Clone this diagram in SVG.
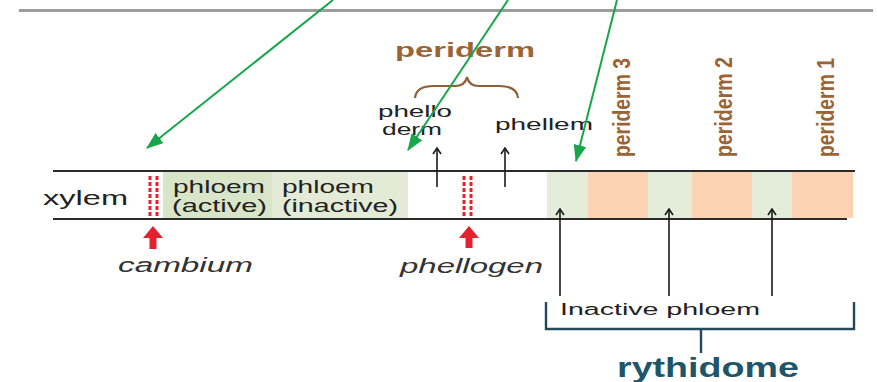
<svg xmlns="http://www.w3.org/2000/svg" width="877" height="382" viewBox="0 0 877 382">
  <style>
    .lbl { font-family: "Liberation Sans", Arial, sans-serif; fill: #222; }
    .it { font-style: italic; fill: #333; }
    .brown { font-weight: bold; fill: #9a6434; }
    .band { stroke: #2b2b2b; stroke-width: 2; fill: none; }
    .thin { stroke: #1a1a1a; stroke-width: 1.6; fill: none; }
    .green { stroke: #17a64a; stroke-width: 2; fill: none; }
    .red-dash { stroke: #e3222d; stroke-width: 3; stroke-dasharray: 4 2; fill: none; }
    .teal { stroke: #24495a; stroke-width: 2.4; fill: none; }
  </style>
  <defs>
    <marker id="open-head" viewBox="0 0 10 10" refX="9" refY="5" markerWidth="10" markerHeight="10" markerUnits="userSpaceOnUse" orient="auto">
      <path d="M3,1 L9,5 L3,9" fill="none" stroke="#1a1a1a" stroke-width="1.6"/>
    </marker>
    <marker id="green-head" viewBox="0 0 16 12" refX="15" refY="6" markerWidth="17" markerHeight="13" markerUnits="userSpaceOnUse" orient="auto">
      <path d="M0,0 L16,6 L0,12 Z" fill="#17a64a"/>
    </marker>
  </defs>

  <rect width="877" height="382" fill="#ffffff"/>

  <!-- header rule -->
  <line x1="19" y1="10.5" x2="873" y2="10.5" stroke="#9c9c9c" stroke-width="3"/>

  <!-- tissue fills -->
  <g id="phloem-active">
    <rect x="163" y="172" width="109" height="46" fill="#d9e5c8"/>
    <text class="lbl" x="173" y="193" font-size="17.5" textLength="92" lengthAdjust="spacingAndGlyphs">phloem</text>
    <text class="lbl" x="172" y="212" font-size="17.5" textLength="95" lengthAdjust="spacingAndGlyphs">(active)</text>
  </g>
  <g id="phloem-inactive">
    <rect x="272" y="172" width="136" height="46" fill="#e3ebd7"/>
    <text class="lbl" x="282" y="193" font-size="17.5" textLength="92" lengthAdjust="spacingAndGlyphs">phloem</text>
    <text class="lbl" x="282" y="212" font-size="17.5" textLength="116" lengthAdjust="spacingAndGlyphs">(inactive)</text>
  </g>
  <g id="bark-layers">
    <rect x="547" y="172" width="41" height="46" fill="#e4ecda"/>
    <rect x="588" y="172" width="60" height="46" fill="#fcd3b2"/>
    <rect x="648" y="172" width="44" height="46" fill="#e4ecda"/>
    <rect x="692" y="172" width="60" height="46" fill="#fcd3b2"/>
    <rect x="752" y="172" width="40" height="46" fill="#e4ecda"/>
    <rect x="792" y="172" width="61" height="46" fill="#fcd3b2"/>
  </g>

  <!-- stem boundaries -->
  <g id="band-lines">
    <line class="band" x1="53" y1="171" x2="855" y2="171"/>
    <line class="band" x1="53" y1="219" x2="847" y2="219"/>
  </g>

  <g id="xylem">
    <text class="lbl" x="43" y="205" font-size="21" textLength="85" lengthAdjust="spacingAndGlyphs">xylem</text>
  </g>

  <g id="cambium">
    <line class="red-dash" x1="150" y1="176" x2="150" y2="218"/>
    <line class="red-dash" x1="157" y1="176" x2="157" y2="218"/>
    <path d="M153,226 L163,238 L156.5,238 L156.5,249 L149.5,249 L149.5,238 L143,238 Z" fill="#e3222d"/>
    <text class="lbl it" x="118" y="272" font-size="20" textLength="135" lengthAdjust="spacingAndGlyphs">cambium</text>
  </g>

  <g id="phellogen">
    <line class="red-dash" x1="464" y1="176" x2="464" y2="216"/>
    <line class="red-dash" x1="471" y1="176" x2="471" y2="216"/>
    <path d="M469,226 L479,238 L472.5,238 L472.5,248 L465.5,248 L465.5,238 L459,238 Z" fill="#e3222d"/>
    <text class="lbl it" x="400" y="273" font-size="20" textLength="143" lengthAdjust="spacingAndGlyphs">phellogen</text>
  </g>

  <g id="periderm">
    <text class="lbl brown" x="395" y="57" font-size="21" textLength="140" lengthAdjust="spacingAndGlyphs">periderm</text>
    <path d="M415,98 Q416,86 434,86 L455,86 Q465,86 467,77 Q469,86 479,86 L499,86 Q517,86 518,98" fill="none" stroke="#8f5e34" stroke-width="2.2"/>
  </g>

  <g id="phelloderm">
    <text class="lbl" x="378" y="117" font-size="16" textLength="74" lengthAdjust="spacingAndGlyphs">phello</text>
    <text class="lbl" x="382" y="135" font-size="16" textLength="60" lengthAdjust="spacingAndGlyphs">derm</text>
  </g>
  <g id="phellem">
    <text class="lbl" x="495" y="130" font-size="17" textLength="98" lengthAdjust="spacingAndGlyphs">phellem</text>
  </g>

  <g id="periderm-3">
    <text class="lbl brown" transform="translate(630,157) rotate(-90)" font-size="23" textLength="99" lengthAdjust="spacingAndGlyphs">periderm 3</text>
  </g>
  <g id="periderm-2">
    <text class="lbl brown" transform="translate(732,157) rotate(-90)" font-size="23" textLength="100" lengthAdjust="spacingAndGlyphs">periderm 2</text>
  </g>
  <g id="periderm-1">
    <text class="lbl brown" transform="translate(834,157) rotate(-90)" font-size="23" textLength="99" lengthAdjust="spacingAndGlyphs">periderm 1</text>
  </g>

  <g id="rhytidome">
    <text class="lbl" x="560" y="315" font-size="16" textLength="200" lengthAdjust="spacingAndGlyphs">Inactive phloem</text>
    <path class="teal" d="M546,302 L546,329 L854,329 L854,302 M701,329 L701,353"/>
    <text class="lbl" x="617" y="377" font-size="27" font-weight="bold" style="fill:#1f5569" textLength="182" lengthAdjust="spacingAndGlyphs">rythidome</text>
  </g>

  <!-- connectors -->
  <g id="connectors">
    <line class="thin" x1="437" y1="187" x2="437" y2="148" marker-end="url(#open-head)"/>
    <line class="thin" x1="505" y1="187" x2="505" y2="148" marker-end="url(#open-head)"/>
    <line class="thin" x1="560" y1="296" x2="560" y2="209" marker-end="url(#open-head)"/>
    <line class="thin" x1="669" y1="296" x2="669" y2="209" marker-end="url(#open-head)"/>
    <line class="thin" x1="772" y1="296" x2="772" y2="209" marker-end="url(#open-head)"/>
    <line class="green" x1="333" y1="0" x2="147" y2="148" marker-end="url(#green-head)"/>
    <line class="green" x1="508" y1="0" x2="408" y2="150" marker-end="url(#green-head)"/>
    <line class="green" x1="617" y1="0" x2="576" y2="161" marker-end="url(#green-head)"/>
  </g>
</svg>
